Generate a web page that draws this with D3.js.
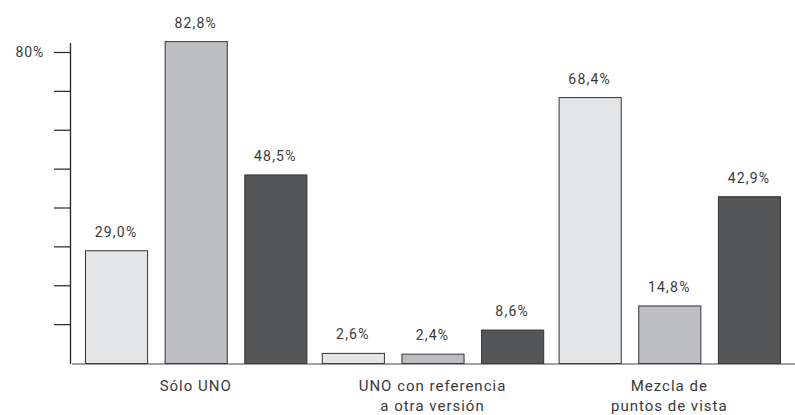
<!DOCTYPE html>
<html>
<head>
<meta charset="utf-8">
<script src="https://cdn.jsdelivr.net/npm/d3@7"></script>
<style>
  body { margin: 0; background: #fff; }
  text { font-family: Roboto, "DejaVu Sans", sans-serif; fill: #3a3a3a; }
</style>
</head>
<body>
<script>
// data
const categories = [["Sólo UNO"], ["UNO con referencia", "a otra versión"], ["Mezcla de", "puntos de vista"]]
const series = ["s1", "s2", "s3"]
const values = [
  [29.0, 82.8, 48.5],
  [2.6, 2.4, 8.6],
  [68.4, 14.8, 42.9],
]
const colors = ["#e4e5e7", "#bdbec1", "#555658"]
const yTicks = [0, 10, 20, 30, 40, 50, 60, 70, 80]

const width = 795, height = 415

const svg = d3.select("body").append("svg")
  .attr("width", width).attr("height", height)

const y = d3.scaleLinear().domain([0, 80]).range([363, 52])

const x0 = d3.scaleBand()
  .domain(d3.range(categories.length))
  .range([85, 780])
  .paddingInner(0.065)

const x1 = d3.scaleBand()
  .domain(d3.range(series.length))
  .range([0, x0.bandwidth()])
  .paddingInner(0.22)

const fmt = v => d3.format(".1f")(v).replace(".", ",") + "%"

// y axis
const yAxis = svg.append("g").attr("transform", "translate(70,0)")
  .call(d3.axisLeft(y).tickValues(yTicks).tickSize(16)
    .tickFormat(d => d === 80 ? "80%" : ""))
yAxis.select(".domain").remove()
yAxis.selectAll(".tick line").attr("stroke", "#333").attr("stroke-width", 1.3)
yAxis.selectAll(".tick").filter(d => d === 0).remove()
yAxis.selectAll(".tick text").attr("x", -26)
  .style("font-size", "14px").style("letter-spacing", "0.8px")
  .style("font-family", "Roboto, sans-serif").attr("fill", "#3a3a3a")

svg.append("line")
  .attr("x1", 70.5).attr("x2", 70.5)
  .attr("y1", 43).attr("y2", y(0) + 1)
  .attr("stroke", "#222").attr("stroke-width", 1.3)

// groups of bars
const groups = svg.selectAll("g.grp").data(values).enter().append("g")
  .attr("class", "grp")
  .attr("transform", (d, i) => `translate(${x0(i)},0)`)

groups.selectAll("rect").data(d => d).enter().append("rect")
  .attr("x", (d, j) => x1(j) + 0.5)
  .attr("y", d => y(d) + 0.5)
  .attr("width", x1.bandwidth())
  .attr("height", d => y(0) - y(d))
  .attr("fill", (d, j) => colors[j])
  .attr("stroke", "#333")
  .attr("stroke-width", 1)

groups.selectAll("text.val").data(d => d).enter().append("text")
  .attr("class", "val")
  .attr("x", (d, j) => x1(j) + x1.bandwidth() / 2)
  .attr("y", d => y(d) - 13.5)
  .attr("text-anchor", "middle")
  .style("font-size", "14px")
  .style("letter-spacing", "1.2px")
  .text(fmt)

// baseline
svg.append("line")
  .attr("x1", 72).attr("x2", width)
  .attr("y1", y(0) + 1).attr("y2", y(0) + 1)
  .attr("stroke", "#444").attr("stroke-width", 1.2)

// category labels
groups.append("text")
  .attr("x", x0.bandwidth() / 2)
  .attr("y", 391)
  .attr("text-anchor", "middle")
  .style("font-size", "15px")
  .style("letter-spacing", "1px")
  .each(function(d, i) {
    d3.select(this).selectAll("tspan").data(categories[i]).enter().append("tspan")
      .attr("x", x0.bandwidth() / 2)
      .attr("dy", (t, k) => k === 0 ? 0 : 20)
      .text(t => t)
  })
</script>
</body>
</html>
